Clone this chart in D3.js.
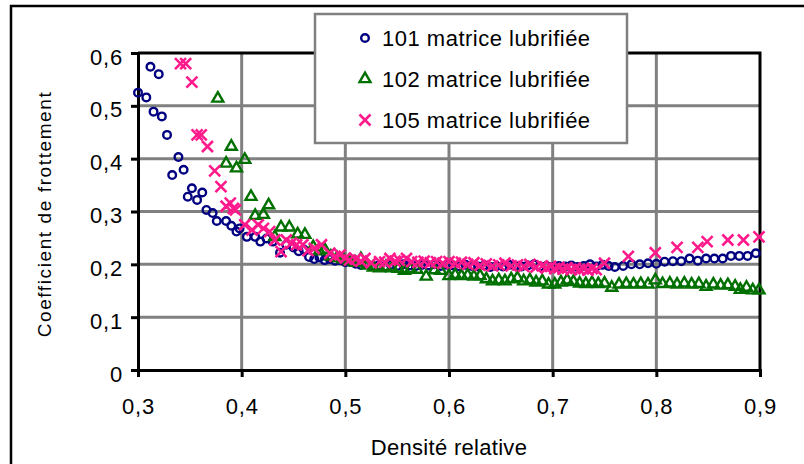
<!DOCTYPE html>
<html><head><meta charset="utf-8">
<script src="https://cdn.jsdelivr.net/npm/d3@7"></script>
<style>body{margin:0;background:#fff}svg{display:block}text{font-family:"Liberation Sans",Arial,sans-serif;fill:#000}</style>
</head><body>
<svg id="c" width="804" height="464"></svg>
<script>
const xTicks=[0.3,0.4,0.5,0.6,0.7,0.8,0.9];
const xTickLabels=["0,3","0,4","0,5","0,6","0,7","0,8","0,9"];
const yTicks=[0,0.1,0.2,0.3,0.4,0.5,0.6];
const yTickLabels=["0","0,1","0,2","0,3","0,4","0,5","0,6"];
const seriesNames=["101 matrice lubrifiée","102 matrice lubrifiée","105 matrice lubrifiée"];
const xTitle="Densité relative";
const yTitle="Coefficient de frottement";

const s101=[[0.300,0.525],[0.308,0.516],[0.312,0.574],[0.320,0.560],[0.315,0.489],[0.323,0.480],[0.328,0.445],[0.339,0.403],[0.344,0.379],[0.333,0.369],[0.352,0.344],[0.362,0.336],[0.348,0.328],[0.357,0.322],[0.366,0.303],[0.372,0.297],[0.376,0.282],[0.385,0.282],[0.390,0.273],[0.395,0.262],[0.398,0.268],[0.405,0.252],[0.413,0.252],[0.418,0.243],[0.424,0.249],[0.430,0.243],[0.437,0.222],[0.443,0.237],[0.450,0.232],[0.455,0.225],[0.460,0.228],[0.465,0.214],[0.470,0.210],[0.475,0.213],[0.480,0.208],[0.485,0.210],[0.490,0.207],[0.495,0.208],[0.500,0.204],[0.505,0.205],[0.510,0.201],[0.515,0.199],[0.520,0.200],[0.526,0.197],[0.532,0.198],[0.538,0.196],[0.544,0.199],[0.550,0.197],[0.556,0.200],[0.562,0.198],[0.568,0.197],[0.574,0.199],[0.580,0.198],[0.586,0.200],[0.592,0.197],[0.598,0.199],[0.604,0.198],[0.610,0.196],[0.616,0.199],[0.622,0.197],[0.628,0.196],[0.634,0.198],[0.640,0.195],[0.646,0.197],[0.652,0.196],[0.658,0.199],[0.664,0.197],[0.670,0.196],[0.676,0.198],[0.682,0.200],[0.688,0.196],[0.694,0.197],[0.700,0.195],[0.706,0.197],[0.712,0.196],[0.718,0.198],[0.724,0.195],[0.730,0.197],[0.736,0.200],[0.742,0.196],[0.748,0.199],[0.754,0.197],[0.760,0.195],[0.768,0.197],[0.776,0.200],[0.784,0.200],[0.792,0.202],[0.800,0.201],[0.808,0.205],[0.816,0.206],[0.824,0.206],[0.832,0.211],[0.840,0.207],[0.848,0.211],[0.856,0.211],[0.864,0.211],[0.872,0.216],[0.880,0.216],[0.888,0.216],[0.896,0.221]];

const s102=[[0.377,0.514],[0.390,0.423],[0.385,0.391],[0.395,0.382],[0.403,0.398],[0.409,0.328],[0.426,0.312],[0.413,0.292],[0.421,0.294],[0.432,0.252],[0.438,0.270],[0.446,0.270],[0.454,0.257],[0.461,0.256],[0.469,0.233],[0.475,0.225],[0.480,0.228],[0.486,0.215],[0.492,0.212],[0.498,0.210],[0.504,0.206],[0.510,0.203],[0.515,0.210],[0.521,0.198],[0.527,0.194],[0.533,0.193],[0.539,0.195],[0.545,0.193],[0.551,0.192],[0.557,0.188],[0.563,0.191],[0.569,0.190],[0.578,0.177],[0.586,0.189],[0.592,0.188],[0.600,0.178],[0.606,0.180],[0.612,0.178],[0.618,0.179],[0.624,0.177],[0.630,0.178],[0.636,0.172],[0.642,0.168],[0.648,0.170],[0.654,0.168],[0.660,0.172],[0.666,0.174],[0.672,0.168],[0.678,0.170],[0.684,0.166],[0.690,0.168],[0.696,0.162],[0.702,0.162],[0.708,0.166],[0.714,0.170],[0.720,0.167],[0.726,0.164],[0.732,0.163],[0.738,0.165],[0.744,0.163],[0.750,0.164],[0.757,0.156],[0.764,0.162],[0.771,0.163],[0.778,0.162],[0.785,0.163],[0.792,0.162],[0.799,0.170],[0.806,0.163],[0.813,0.164],[0.820,0.162],[0.827,0.164],[0.834,0.162],[0.841,0.163],[0.848,0.158],[0.855,0.162],[0.862,0.160],[0.869,0.161],[0.876,0.158],[0.881,0.152],[0.887,0.156],[0.893,0.151],[0.899,0.151]];

const s105=[[0.341,0.580],[0.346,0.580],[0.352,0.545],[0.357,0.445],[0.361,0.445],[0.367,0.423],[0.374,0.377],[0.380,0.347],[0.385,0.310],[0.389,0.316],[0.392,0.306],[0.394,0.303],[0.403,0.275],[0.410,0.265],[0.416,0.275],[0.421,0.268],[0.427,0.262],[0.432,0.246],[0.438,0.224],[0.443,0.246],[0.448,0.240],[0.453,0.237],[0.459,0.237],[0.464,0.226],[0.470,0.230],[0.477,0.237],[0.485,0.221],[0.490,0.215],[0.495,0.218],[0.500,0.212],[0.504,0.208],[0.510,0.210],[0.515,0.206],[0.519,0.211],[0.525,0.203],[0.533,0.205],[0.538,0.204],[0.543,0.211],[0.548,0.206],[0.552,0.208],[0.559,0.211],[0.564,0.205],[0.570,0.204],[0.576,0.206],[0.582,0.203],[0.588,0.205],[0.594,0.202],[0.600,0.205],[0.606,0.202],[0.612,0.204],[0.618,0.200],[0.624,0.203],[0.630,0.198],[0.636,0.201],[0.642,0.197],[0.648,0.199],[0.654,0.202],[0.660,0.197],[0.666,0.199],[0.672,0.196],[0.678,0.200],[0.684,0.195],[0.690,0.197],[0.694,0.193],[0.698,0.196],[0.702,0.192],[0.706,0.194],[0.710,0.191],[0.714,0.193],[0.718,0.190],[0.722,0.193],[0.726,0.190],[0.730,0.192],[0.734,0.189],[0.738,0.192],[0.742,0.190],[0.750,0.202],[0.773,0.215],[0.799,0.222],[0.820,0.232],[0.840,0.232],[0.849,0.243],[0.869,0.246],[0.884,0.246],[0.899,0.252]];

const colors=["#000080","#007000","#ff1a8c"];

const svg=d3.select("#c");
const x=d3.scaleLinear().domain([0.3,0.9]).range([138,760]);
const y=d3.scaleLinear().domain([0,0.6]).range([370,53]);

// outer frame
svg.append("rect").attr("x",11).attr("y",6).attr("width",900).attr("height",600)
  .attr("fill","#fff").attr("stroke","#000").attr("stroke-width",2.5);
svg.append("rect").attr("x",x(0.3)).attr("y",y(0.6)).attr("width",x(0.9)-x(0.3)).attr("height",y(0)-y(0.6)).attr("fill","#fff");

// gridlines
const grid=svg.append("g").attr("stroke","#808080").attr("stroke-width",3);
grid.selectAll(".gy").data(yTicks.slice(1,-1)).join("line")
  .attr("x1",x(0.3)).attr("x2",x(0.9)).attr("y1",d=>y(d)).attr("y2",d=>y(d));
grid.selectAll(".gx").data(xTicks.slice(1,-1)).join("line")
  .attr("y1",y(0)).attr("y2",y(0.6)).attr("x1",d=>x(d)).attr("x2",d=>x(d));

// plot border top/right
svg.append("path").attr("d",`M${x(0.3)},${y(0.6)}H${x(0.9)}V${y(0)}`)
  .attr("fill","none").attr("stroke","#000").attr("stroke-width",3);

// axes
const yAxis=d3.axisLeft(y).tickValues(yTicks).tickFormat((d,i)=>yTickLabels[i]).tickSize(7).tickPadding(8);
const gy=svg.append("g").attr("transform",`translate(${x(0.3)},0)`).call(yAxis);
const xAxis=d3.axisBottom(x).tickValues(xTicks).tickFormat((d,i)=>xTickLabels[i]).tickSize(7).tickPadding(21);
const gx=svg.append("g").attr("transform",`translate(0,${y(0)})`).call(xAxis);
[gx,gy].forEach(g=>{
  g.attr("font-family",null).attr("font-size",null);
  g.select(".domain").attr("stroke","#000").attr("stroke-width",3);
  g.selectAll(".tick line").attr("stroke","#000").attr("stroke-width",3);
  g.selectAll(".tick text").style("font-size","22px").style("letter-spacing","0.8px");
});
gy.selectAll(".tick text").attr("dy","0.5em");

// markers
function drawCircle(g,d,c){g.append("circle").attr("cx",x(d[0])).attr("cy",y(d[1])).attr("r",3.8).attr("fill","none").attr("stroke",c).attr("stroke-width",2.4);}
const triSym=d3.symbol().type(d3.symbolTriangle).size(52);
function drawTri(g,d,c){g.append("path").attr("d",triSym()).attr("transform",`translate(${x(d[0])},${y(d[1])})`).attr("fill","none").attr("stroke",c).attr("stroke-width",2.4);}
function drawX(g,d,c){const s=5.5;g.append("path").attr("d",`M${-s},${-s}L${s},${s}M${-s},${s}L${s},${-s}`).attr("transform",`translate(${x(d[0])},${y(d[1])})`).attr("stroke",c).attr("stroke-width",2.6);}

const gm=svg.append("g");
s101.forEach(d=>drawCircle(gm,d,colors[0]));
s102.forEach(d=>drawTri(gm,d,colors[1]));
s105.forEach(d=>drawX(gm,d,colors[2]));

// titles
svg.append("text").attr("x",(x(0.3)+x(0.9))/2).attr("y",455).attr("text-anchor","middle")
  .style("font-size","22px").style("letter-spacing","0.3px").text(xTitle);
svg.append("text").attr("transform","translate(51,214) rotate(-90)").attr("text-anchor","middle")
  .style("font-size","19px").style("letter-spacing","1.6px").text(yTitle);

// legend
const lg=svg.append("g");
lg.append("rect").attr("x",315).attr("y",14).attr("width",312).attr("height",129)
  .attr("fill","#fff").attr("stroke","#808080").attr("stroke-width",2.5);
const rowsY=[38,79,120];
const markers=[drawCircle,drawTri,drawX];
seriesNames.forEach((n,i)=>{
  const lx=x.invert(365), ly=y.invert(rowsY[i]);
  markers[i](lg,[lx,ly],colors[i]);
  lg.append("text").attr("x",382).attr("y",rowsY[i]).attr("dy","0.36em")
    .style("font-size","22px").style("letter-spacing","0.5px").text(n);
});
</script>
</body></html>
